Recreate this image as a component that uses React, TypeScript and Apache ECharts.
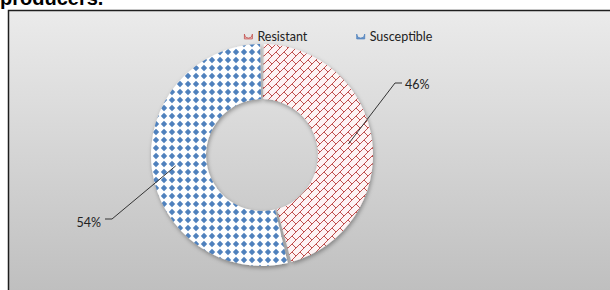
import React, { useEffect, useRef } from "react";
import * as echarts from "echarts";

const titleText = "producers.";
const categories = ["Resistant", "Susceptible"];
const values = [46, 54];
const colorsMain = ["#c0504d", "#4f81bd"];
const legendFill = ["#f2c4c6", "#6d97cc"];

function brickPattern(color: string): string {
  const c = document.createElement("canvas");
  c.width = 8;
  c.height = 8;
  const ctx = c.getContext("2d")!;
  ctx.fillStyle = "#fdf3f4";
  ctx.fillRect(0, 0, 8, 8);
  ctx.fillStyle = color;
  const bits = [
    "00000001",
    "00000010",
    "00000100",
    "00001000",
    "00011000",
    "00100100",
    "01000010",
    "10000001",
  ];
  for (let r = 0; r < 8; r++)
    for (let k = 0; k < 8; k++) if (bits[r][k] === "1") ctx.fillRect(k, r, 1, 1);
  return c.toDataURL();
}

function diamondPattern(color: string): string {
  const c = document.createElement("canvas");
  c.width = 8;
  c.height = 8;
  const ctx = c.getContext("2d")!;
  ctx.fillStyle = "#ffffff";
  ctx.fillRect(0, 0, 8, 8);
  ctx.fillStyle = color;
  ctx.beginPath();
  ctx.moveTo(4, 0.8);
  ctx.lineTo(7.2, 4);
  ctx.lineTo(4, 7.2);
  ctx.lineTo(0.8, 4);
  ctx.closePath();
  ctx.fill();
  return c.toDataURL();
}

export default function App() {
  const ref = useRef<HTMLDivElement>(null);
  useEffect(() => {
    if (!ref.current) return;
    const chart = echarts.init(ref.current, null, { renderer: "svg" });
    const patterns = [brickPattern(colorsMain[0]), diamondPattern(colorsMain[1])];
    const cx = 262;
    const cy = 155;
    const rIn = 56;
    const rOut = 111;
    const rMid = 87;
    const labelPos = [
      { x: 405, y: 84, align: "left", elbow: [395, 83], end: [402, 83] },
      { x: 101, y: 222, align: "right", elbow: [112, 219], end: [105, 219] },
    ];
    chart.setOption({
      animation: false,
      graphic: [
        {
          type: "rect",
          z: -10,
          silent: true,
          shape: { x: 8.5, y: 10.5, width: 620, height: 300 },
          style: {
            fill: {
              type: "linear",
              x: 0,
              y: 0,
              x2: 0,
              y2: 1,
              colorStops: [
                { offset: 0, color: "#ebebeb" },
                { offset: 1, color: "#bcbcbc" },
              ],
            },
            stroke: "#1e1e1e",
            lineWidth: 1.5,
          },
        },
        {
          type: "text",
          x: 0,
          y: -2,
          style: {
            text: titleText,
            font: 'bold 20px "Liberation Sans", Arial, sans-serif',
            fill: "#000",
            verticalAlign: "middle",
          },
        },
      ],
      legend: {
        left: 239,
        top: 25,
        itemWidth: 8,
        itemHeight: 8,
        itemGap: 49,
        icon: "path://M0,2 A5,5 0 0 0 10,2 L10,8 L0,8 Z",
        data: categories.map((name, i) => ({
          name,
          itemStyle: { color: legendFill[i], borderColor: colorsMain[i], borderWidth: 0.8 },
        })),
        textStyle: { fontFamily: "Lato", fontSize: 12.5, color: "#222" },
      },
      series: [
        {
          type: "pie",
          z: 2,
          center: [cx, cy],
          radius: [rIn, rOut],
          startAngle: 90,
          clockwise: true,
          padAngle: 2,
          data: categories.map((name, i) => ({
            name,
            value: values[i],
            itemStyle: {
              color: { image: patterns[i], repeat: "repeat", imageWidth: 8, imageHeight: 8 },
            },
          })),
          itemStyle: {
            shadowBlur: 4,
            shadowColor: "rgba(0,0,0,0.35)",
            shadowOffsetX: 1,
            shadowOffsetY: 2,
          },
          label: { show: false },
          labelLine: { show: false },
        },
        {
          type: "pie",
          z: 5,
          silent: true,
          legendHoverLink: false,
          center: [cx, cy],
          radius: [0, rMid],
          startAngle: 90,
          clockwise: true,
          data: categories.map((name, i) => ({ name, value: values[i] })),
          itemStyle: { color: "rgba(0,0,0,0)", borderWidth: 0 },
          emphasis: { disabled: true },
          label: {
            show: true,
            formatter: (p: any) => Math.round(p.percent) + "%",
            fontFamily: "Lato",
            fontSize: 12.5,
            color: "#222",
          },
          labelLine: {
            show: true,
            lineStyle: { color: "#333", width: 1 },
          },
          labelLayout: (params: any) => {
            const i = params.dataIndex;
            const lp = labelPos[i];
            const pts = params.labelLinePoints;
            let start: number[] = [cx, cy];
            if (pts && pts[0]) start = [pts[0][0], pts[0][1]];
            return {
              x: lp.x,
              y: lp.y,
              align: lp.align,
              verticalAlign: "middle",
              labelLinePoints: [start, lp.elbow, lp.end],
            };
          },
        },
      ],
    });
    return () => chart.dispose();
  }, []);
  return (
    <div
      ref={ref}
      style={{ position: "absolute", left: 0, top: 0, width: 610, height: 290 }}
    />
  );
}
